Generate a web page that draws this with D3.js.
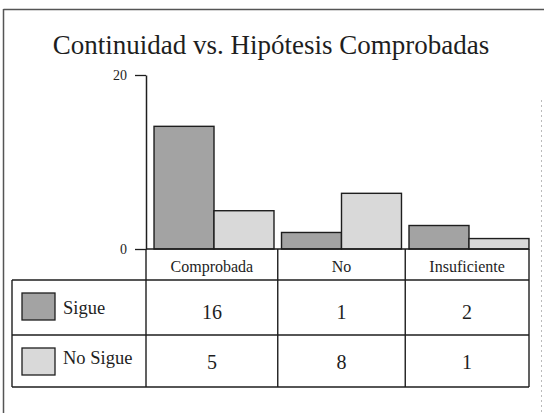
<!DOCTYPE html>
<html>
<head>
<meta charset="utf-8">
<script src="https://cdn.jsdelivr.net/npm/d3@7"></script>
<style>
  body { margin: 0; background: #fff; }
  svg { display: block; }
</style>
</head>
<body>
<svg id="chart" width="544" height="413"></svg>
<script>
// data (bar heights, table values as printed)
var categorias = ['Comprobada', 'No', 'Insuficiente'];
var series = ['Sigue', 'No Sigue'];
var barSigue = [14.1, 1.9, 2.7];
var barNoSigue = [4.4, 6.4, 1.2];
var tablaSigue = [16, 1, 2];
var tablaNoSigue = [5, 8, 1];
var yTicks = [0, 20];

(function () {
    var svg = d3.select('#chart'),
    serif = '"Liberation Serif", "Times New Roman", serif',
    ink = '#1e1e1e';

    var axisX = 146, tableLeft = 12, tableRight = 529,
    headerBottom = 280, rowDivider = 335, tableBottom = 387;

    var x = d3.scaleBand().domain(categorias).range([150.2, 532.8]).paddingInner(0.059).paddingOuter(0.03),
    xs = d3.scaleBand().domain(series).range([0, x.bandwidth()]),
    y = d3.scaleLinear().domain([0, 20]).range([249, 75]),
    color = d3.scaleOrdinal().domain(series).range(['#a3a3a3', '#d9d9d9']);

    var barData = [barSigue, barNoSigue];
    var tableData = [tablaSigue, tablaNoSigue];

    // frame
    svg.append('line').attr('x1', 3.5).attr('x2', 544).attr('y1', 9.5).attr('y2', 9.5)
    .style('stroke', '#555').style('stroke-width', 1.5);
    svg.append('line').attr('x1', 3.5).attr('x2', 3.5).attr('y1', 9).attr('y2', 413)
    .style('stroke', '#555').style('stroke-width', 1.5);
    svg.append('line').attr('x1', 541.5).attr('x2', 541.5).attr('y1', 100).attr('y2', 413)
    .style('stroke', '#bbb').style('stroke-width', 1).style('stroke-dasharray', '2,3');

    // title
    svg.append('text')
    .attr('x', 271)
    .attr('y', 54)
    .attr('text-anchor', 'middle')
    .style('font-family', serif)
    .style('font-size', '27px')
    .style('fill', ink)
    .text('Continuidad vs. Hipótesis Comprobadas');

    // bars
    var groups = svg.selectAll('.grupo')
    .data(categorias)
    .enter()
    .append('g')
    .attr('class', 'grupo')
    .attr('transform', function(d) { return 'translate(' + x(d) + ',0)'; });

    groups.selectAll('rect')
    .data(function(d, i) { return series.map(function(s, j) { return {serie: s, valor: barData[j][i]}; }); })
    .enter()
    .append('rect')
    .attr('x', function(d) { return xs(d.serie); })
    .attr('y', function(d) { return y(d.valor); })
    .attr('width', xs.bandwidth())
    .attr('height', function(d) { return y(0) - y(d.valor); })
    .style('fill', function(d) { return color(d.serie); })
    .style('stroke', ink)
    .style('stroke-width', 1.4);

    // y axis
    var yAxis = svg.append('g')
    .attr('transform', 'translate(' + axisX + ',0)')
    .call(d3.axisLeft(y).tickValues(yTicks).tickSize(11).tickSizeOuter(0).tickPadding(8));
    yAxis.select('.domain').style('stroke', ink).style('stroke-width', 1.5);
    yAxis.selectAll('.tick line').style('stroke', ink).style('stroke-width', 1.3);
    yAxis.selectAll('.tick text')
    .style('font-family', serif)
    .style('font-size', '14px')
    .style('fill', ink);

    // table
    var edges = [axisX].concat(categorias.slice(1).map(function(c) {
        return x(c) - x.step() * x.paddingInner() / 2;
    })).concat([tableRight]);
    var centers = categorias.map(function(c, i) { return (edges[i] + edges[i + 1]) / 2; });

    var table = svg.append('g')
    .style('stroke', ink)
    .style('stroke-width', 1.4);

    table.append('line').attr('x1', axisX).attr('x2', tableRight).attr('y1', y(0)).attr('y2', y(0));
    table.append('line').attr('x1', tableLeft).attr('x2', tableRight).attr('y1', headerBottom).attr('y2', headerBottom);
    table.append('line').attr('x1', tableLeft).attr('x2', tableRight).attr('y1', rowDivider).attr('y2', rowDivider);
    table.append('line').attr('x1', tableLeft).attr('x2', tableRight).attr('y1', tableBottom).attr('y2', tableBottom);
    table.append('line').attr('x1', tableLeft).attr('x2', tableLeft).attr('y1', headerBottom).attr('y2', tableBottom);
    table.selectAll('.col')
    .data(edges)
    .enter()
    .append('line')
    .attr('class', 'col')
    .attr('x1', function(d) { return d; })
    .attr('x2', function(d) { return d; })
    .attr('y1', y(0))
    .attr('y2', tableBottom);

    // header labels
    svg.selectAll('.cat')
    .data(categorias)
    .enter()
    .append('text')
    .attr('class', 'cat')
    .attr('x', function(d, i) { return centers[i]; })
    .attr('y', 272)
    .attr('text-anchor', 'middle')
    .style('font-family', serif)
    .style('font-size', '16px')
    .style('fill', ink)
    .text(function(d) { return d; });

    // rows: legend swatch, label, values
    var rowTop = [headerBottom, rowDivider];
    var rowBase = [319, 369];
    var rows = svg.selectAll('.fila')
    .data(series)
    .enter()
    .append('g')
    .attr('class', 'fila');

    rows.append('rect')
    .attr('x', 22)
    .attr('y', function(d, i) { return rowTop[i] + 13; })
    .attr('width', 33)
    .attr('height', 27)
    .style('fill', function(d) { return color(d); })
    .style('stroke', ink)
    .style('stroke-width', 1.3);

    rows.append('text')
    .attr('x', 63)
    .attr('y', function(d, i) { return rowBase[i] - 5; })
    .style('font-family', serif)
    .style('font-size', '18.5px')
    .style('fill', ink)
    .text(function(d) { return d; });

    rows.selectAll('.valor')
    .data(function(d, i) { return tableData[i].map(function(v) { return {v: v, fila: i}; }); })
    .enter()
    .append('text')
    .attr('class', 'valor')
    .attr('x', function(d, i) { return centers[i]; })
    .attr('y', function(d) { return rowBase[d.fila]; })
    .attr('text-anchor', 'middle')
    .style('font-family', serif)
    .style('font-size', '20px')
    .style('fill', ink)
    .text(function(d) { return d.v; });
})();
</script>
</body>
</html>
